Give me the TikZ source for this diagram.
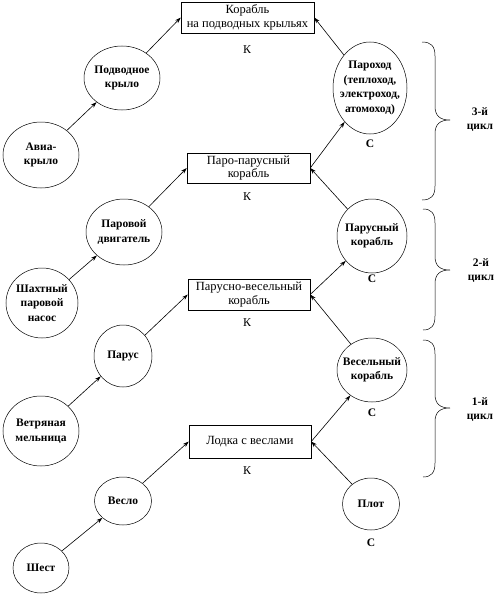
\documentclass[tikz,border=0pt]{standalone}
\usepackage{fontspec}
\setmainfont{Liberation Serif}
\usetikzlibrary{shapes.geometric,arrows.meta}
\begin{document}
\begin{tikzpicture}[x=1pt,y=-1pt,
 ell/.style={draw,ellipse,inner sep=0pt,line width=0.5pt},
 box/.style={draw,rectangle,inner sep=0pt,line width=0.5pt,align=center,font=\fontsize{12.5}{13.5}\selectfont},
 ctext/.style={align=center,font=\bfseries\fontsize{11.5}{14.5}\selectfont},
 klab/.style={font=\fontsize{12}{13}\selectfont},
 slab/.style={font=\bfseries\fontsize{11.5}{13}\selectfont},
 cyc/.style={align=center,font=\bfseries\fontsize{11.5}{14}\selectfont},
 arr/.style={-{Stealth[length=6pt,width=4pt]},line width=0.6pt},
 bracel/.style={line width=0.5pt}]
\useasboundingbox (0,0) rectangle (500,602);

% boxes
\node[box,minimum width=133,minimum height=31] (tb) at (247.5,17.5) {Корабль\\на подводных крыльях};
\node[box,minimum width=123,minimum height=30] (pp) at (248.5,168) {Паро-парусный\\корабль};
\node[box,minimum width=122,minimum height=31] (pv) at (249,294.5) {Парусно-весельный\\корабль};
\node[box,minimum width=122,minimum height=33] (lv) at (250,441.5) {Лодка с веслами};

\node[klab] (k4) at (247,50) {К};
\node[klab] (k3) at (247,197) {К};
\node[klab] (k2) at (247,323) {К};
\node[klab] (k1) at (247,471) {К};

% left ellipses
\node[ell,minimum width=76,minimum height=64,label={[ctext]center:Подводное\\крыло}] (pk) at (122,78) {};
\node[ell,minimum width=76,minimum height=66,label={[ctext]center:Авиа-\\крыло}] (ak) at (41,155) {};
\node[ell,minimum width=76,minimum height=66,label={[ctext]center:Паровой\\двигатель}] (pd) at (124,232) {};
\node[ell,minimum width=72,minimum height=70,label={[ctext]center:Шахтный\\паровой\\насос}] (sh) at (42,303) {};
\node[ell,minimum width=58,minimum height=62,label={[ctext]center:Парус}] (pa) at (123,356) {};
\node[ell,minimum width=76,minimum height=70,label={[ctext]center:Ветряная\\мельница}] (vm) at (41,431) {};
\node[ell,minimum width=57,minimum height=48,label={[ctext]center:Весло}] (ve) at (123,501) {};
\node[ell,minimum width=56,minimum height=50,label={[ctext]center:Шест}] (sht) at (41,568) {};

% right ellipses
\node[ell,minimum width=74,minimum height=92,label={[ctext]center:Пароход\\(теплоход,\\электроход,\\атомоход)}] (ph) at (370,88) {};
\node[ell,minimum width=70,minimum height=74,label={[ctext]center:Парусный\\корабль}] (pk2) at (372,236) {};
\node[ell,minimum width=70,minimum height=64,label={[ctext]center:Весельный\\корабль}] (vk) at (372,370) {};
\node[ell,minimum width=57,minimum height=52,label={[ctext]center:Плот}] (pl) at (371,504) {};

\node[slab] (s4) at (370,144) {С};
\node[slab] (s3) at (372,279) {С};
\node[slab] (s2) at (372,413) {С};
\node[slab] (s1) at (371,543) {С};

% arrows
\draw[arr] (ak) -- (pk);
\draw[arr] (pk) -- (tb.west);
\draw[arr] (ph) -- (tb.east);
\draw[arr] (pp.east) -- (ph);
\draw[arr] (pk2) -- (pp.east);
\draw[arr] (sh) -- (pd);
\draw[arr] (pd) -- (pp.west);
\draw[arr] (vm) -- (pa);
\draw[arr] (pa) -- (pv.west);
\draw[arr] (pv.east) -- (pk2);
\draw[arr] (vk) -- (pv.east);
\draw[arr] (sht) -- (ve);
\draw[arr] (ve) -- (lv.west);
\draw[arr] (lv.east) -- (vk);
\draw[arr] (pl) -- (lv.east);

% braces
\draw[bracel] (422,42) .. controls (431,42) and (435,46) .. (435,56) -- (435,106)
  .. controls (435,116) and (440,120) .. (450,120)
  .. controls (440,120) and (435,124) .. (435,134) -- (435,186)
  .. controls (435,196) and (431,200) .. (422,200);
\draw[bracel] (423,209) .. controls (431,209) and (435,213) .. (435,223) -- (435,256)
  .. controls (435,266) and (440,270) .. (450,270)
  .. controls (440,270) and (435,274) .. (435,284) -- (435,316)
  .. controls (435,326) and (431,330) .. (423,330);
\draw[bracel] (423,340) .. controls (431,340) and (435,344) .. (435,354) -- (435,394)
  .. controls (435,404) and (440,408) .. (450,408)
  .. controls (440,408) and (435,412) .. (435,422) -- (435,463)
  .. controls (435,473) and (431,477) .. (423,477);

\node[cyc] (c3) at (480,120) {3-й\\цикл};
\node[cyc] (c2) at (481,271) {2-й\\цикл};
\node[cyc] (c1) at (480,410) {1-й\\цикл};
\end{tikzpicture}
\end{document}
